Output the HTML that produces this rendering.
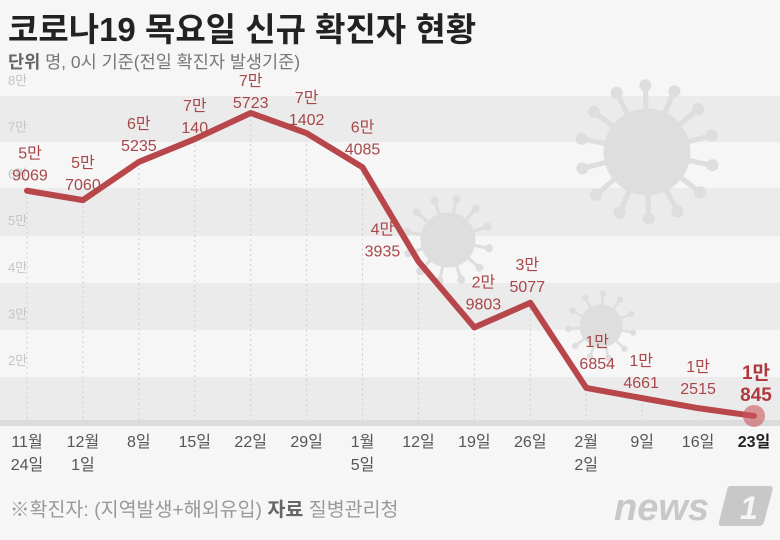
<!DOCTYPE html>
<html><head><meta charset="utf-8"><style>
body{margin:0;background:#f6f6f6;}
#wrap{position:relative;width:780px;height:540px;overflow:hidden;background:#f6f6f6;font-family:"Liberation Sans","Noto Sans CJK KR",sans-serif;}
</style></head><body>
<div id="wrap">
<svg id="chart" width="780" height="540" xmlns="http://www.w3.org/2000/svg"></svg>
</div>
<script>
const categories1=["11월","12월","8일","15일","22일","29일","1월","12일","19일","26일","2월","9일","16일","23일"];
const categories2=["24일","1일","","","","","5일","","","","2일","","",""];
const values=[59069,57060,65235,70140,75723,71402,64085,43935,29803,35077,16854,14661,12515,10845];
const yTicks=[20000,30000,40000,50000,60000,70000,80000];
const yTickLabels=["2만","3만","4만","5만","6만","7만","8만"];
// label offsets (style only)
const lblDx=[3,0,0,0,0,0,0,-36,9,-3,11,-1,0,2];
const lblDy=[-10,-10,-11,-6,-5,-8,-13,-5,-18,-11,-19,-10,-14,-15];

const svg=document.getElementById('chart');
const NS='http://www.w3.org/2000/svg';
function mk(t,a,parent){const e=document.createElementNS(NS,t);for(const k in a)e.setAttribute(k,a[k]);(parent||svg).appendChild(e);return e;}
const x=i=>27+i*(754-27)/(categories1.length-1);
const y=v=>466.6-v*0.00467;

[[96,142],[188,236],[283,330],[377,420]].forEach((b,i)=>{
 const r=mk('rect',{x:0,y:b[0],width:780,height:b[1]-b[0],fill:'#ebebeb'});
 
 
});
const base=mk('rect',{x:0,y:420,width:780,height:6,fill:'#dcdcdc'});



function virus(cx,cy,r,n,name){
 const g=mk('g',{fill:'#dedede',stroke:'#dedede'});
 
 
 mk('circle',{cx:cx,cy:cy,r:r},g);
 for(let k=0;k<n;k++){const a=k/n*Math.PI*2+0.2;const L=r*1.55;
  mk('line',{x1:cx,y1:cy,x2:cx+Math.cos(a)*L,y2:cy+Math.sin(a)*L,'stroke-width':r*0.12},g);
  mk('circle',{cx:cx+Math.cos(a)*L,cy:cy+Math.sin(a)*L,r:r*0.13},g);}
}
virus(647,152,43,14,'virus-decoration-large');
virus(448,240,27,12,'virus-decoration-medium');
virus(601,326,21,11,'virus-decoration-small');

yTicks.forEach((t,i)=>{
 const tx=mk('text',{x:8,y:y(t)-8,'font-size':13,fill:'#c4c4c4'});
 tx.textContent=yTickLabels[i];
 
 
});

categories1.forEach((c,i)=>{
 const l=mk('line',{x1:x(i),x2:x(i),y1:y(values[i])+6,y2:420,stroke:'#cfcfcf','stroke-dasharray':'2,3','stroke-width':1});
 
 
 const last=i===categories1.length-1;
 const t=mk('text',{x:x(i),y:447,'text-anchor':'middle','font-size':16,fill:last?'#222':'#555','font-weight':last?'bold':'normal'});
 t.textContent=c;
 
 
 if(categories2[i]){const t2=mk('text',{x:x(i),y:470,'text-anchor':'middle','font-size':16,fill:'#555'});
  t2.textContent=categories2[i];
  
  }
});

const pts=values.map((v,i)=>x(i)+','+y(v)).join(' ');
const pl=mk('polyline',{points:pts,fill:'none',stroke:'#b8474b','stroke-width':6,'stroke-linejoin':'round','stroke-linecap':'round'});


const li=values.length-1;
const dot=mk('circle',{cx:x(li),cy:y(values[li]),r:11,fill:'#c9575b','fill-opacity':0.6});



values.forEach((v,i)=>{
 const last=i===li;
 const man=Math.floor(v/10000), rest=v%10000;
 const bx=x(i)+lblDx[i], by=y(v)+lblDy[i];
 const g=mk('g',{'text-anchor':'middle','font-size':last?19:16,fill:last?'#b0393d':'#a8474a','font-weight':last?'bold':'normal'});
 
 
 const a=mk('text',{x:bx,y:by-22},g);a.textContent=man+'만';
 const b=mk('text',{x:bx,y:by},g);b.textContent=String(rest);
});

const ti=mk('text',{x:8,y:41,'font-size':33,'font-weight':'bold',fill:'#222'});
ti.textContent='코로나19 목요일 신규 확진자 현황';


const st=mk('text',{x:8,y:68,'font-size':17.5,fill:'#777'});
st.innerHTML='<tspan font-weight="bold" fill="#666">단위</tspan> 명, 0시 기준(전일 확진자 발생기준)';


const ft=mk('text',{x:10,y:516,'font-size':19.5,fill:'#999'});
ft.innerHTML='※확진자: (지역발생+해외유입)  <tspan font-weight="bold" fill="#666">자료</tspan> 질병관리청';


const lg=mk('g',{});


const lt=mk('text',{x:614,y:520,'font-size':38,'font-weight':'bold','font-style':'italic',fill:'#c8c8c8'},lg);
lt.textContent='news';
mk('path',{d:'M730 486 L770 486 Q774 486 772 492 L764 522 Q763 526 758 526 L722 526 Q718 526 719 522 L727 490 Q728 486 730 486 Z',fill:'#c8c8c8'},lg);
const l1=mk('text',{x:740,y:519,'font-size':32,'font-weight':'bold','font-style':'italic',fill:'#f6f6f6'},lg);
l1.textContent='1';
</script>
</body></html>
